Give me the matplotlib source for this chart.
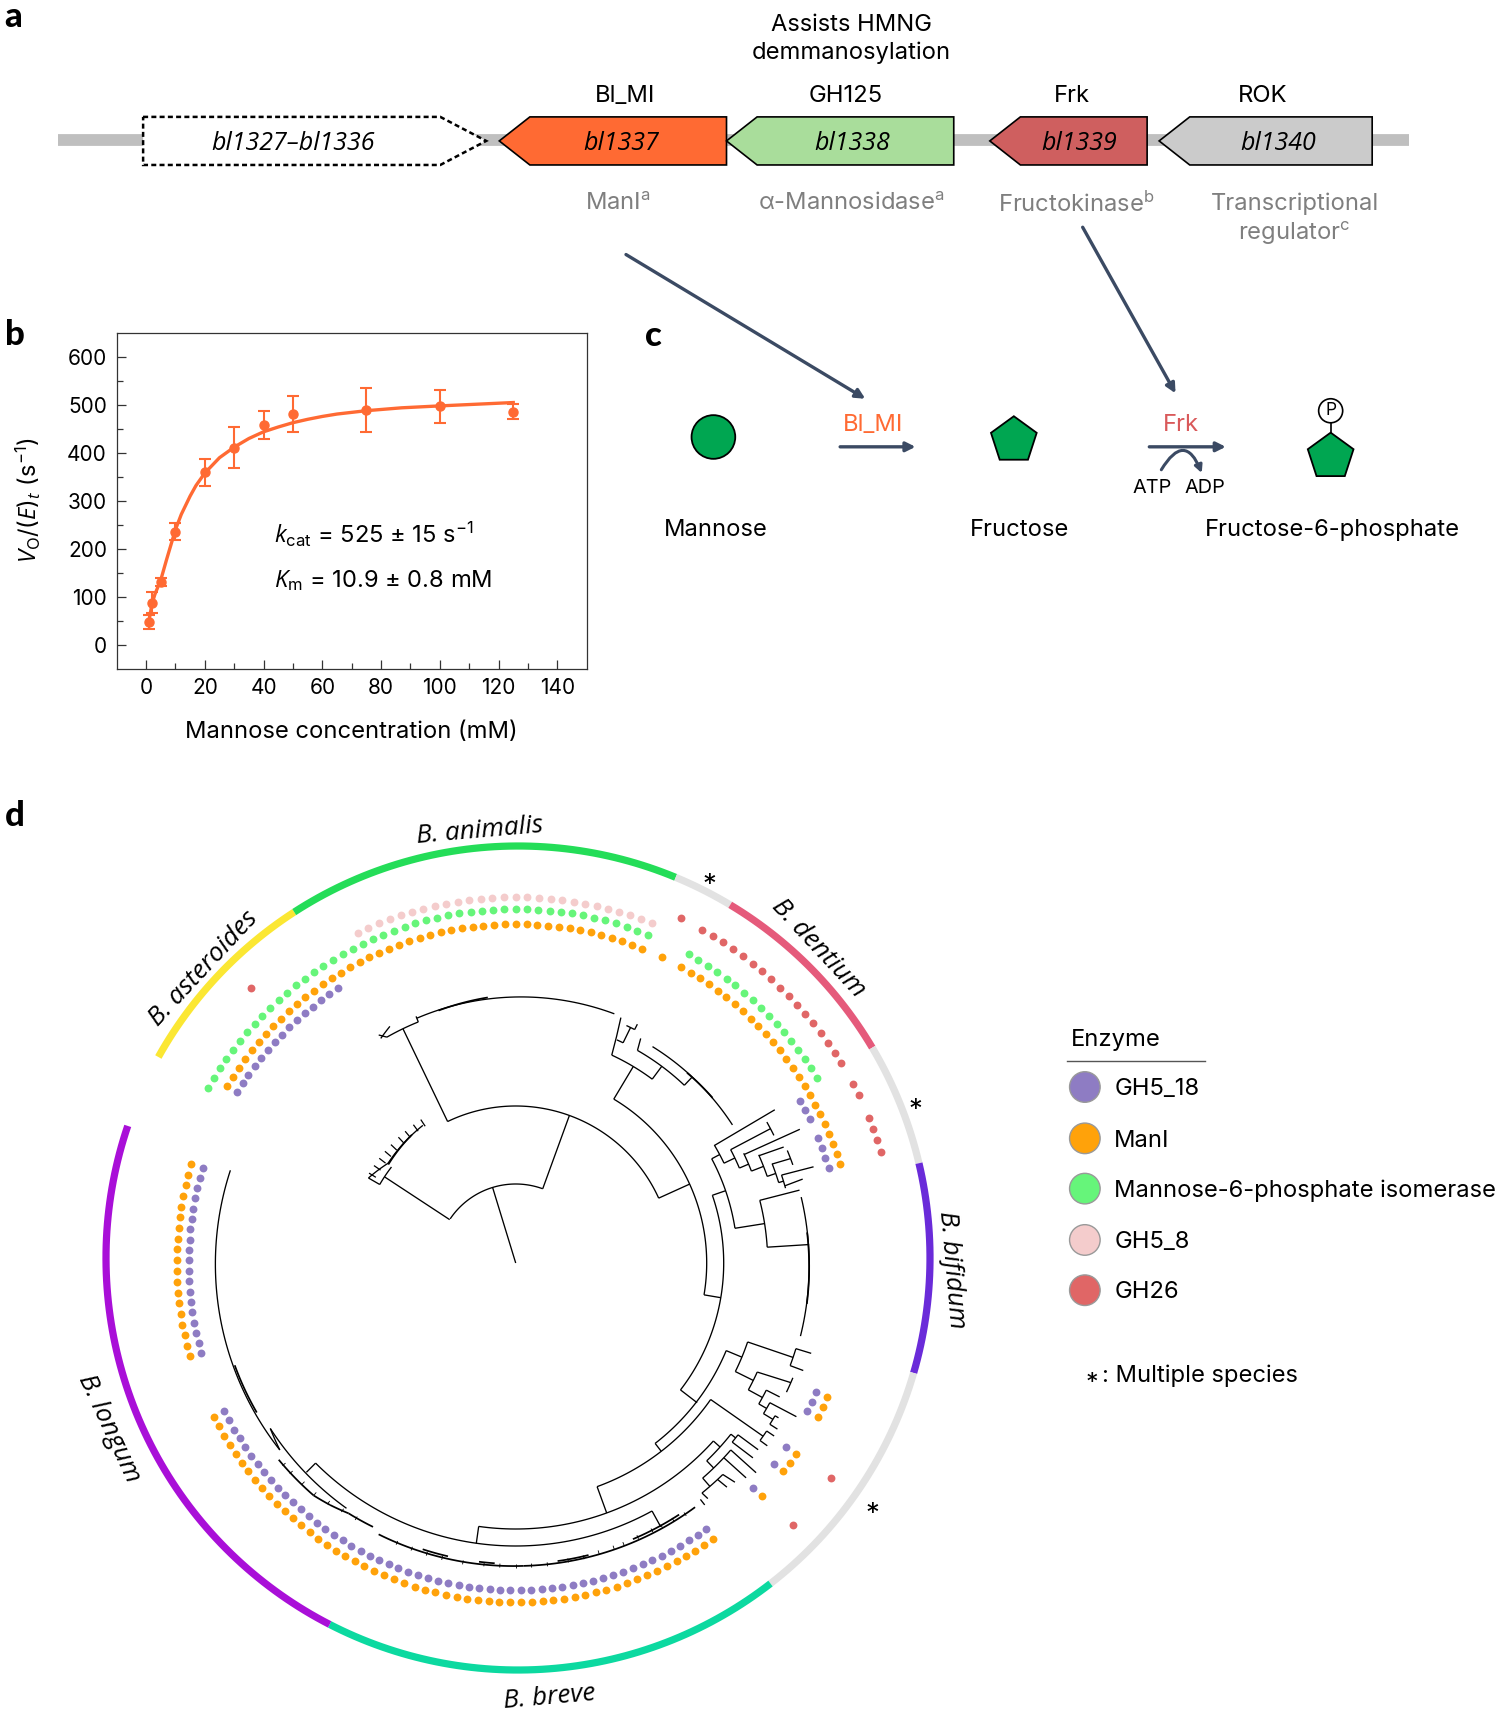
import numpy as np
import matplotlib
matplotlib.use('Agg')
import matplotlib.pyplot as plt
from matplotlib.patches import Polygon, Circle, FancyArrowPatch, RegularPolygon

FONT = 'Inter'
ITALIC = 'Open Sans'
plt.rcParams['font.family'] = [FONT, 'DejaVu Sans']
plt.rcParams['mathtext.fontset'] = 'custom'
plt.rcParams['mathtext.rm'] = FONT
plt.rcParams['mathtext.it'] = ITALIC + ':italic'
plt.rcParams['mathtext.bf'] = FONT + ':bold'

W, H = 1500, 1713
REF_W, REF_H = 1373, 1568  # schematic parts are placed in these units

# panel a
GENE_NAMES = ['bl1337', 'bl1338', 'bl1339', 'bl1340']
GENE_TOP = ['Bl_MI', 'GH125', 'Frk', 'ROK']
GENE_ROLE = ['ManI$^{\\mathrm{a}}$', 'α-Mannosidase$^{\\mathrm{a}}$', 'Fructokinase$^{\\mathrm{b}}$',
             'Transcriptional\nregulator$^{\\mathrm{c}}$']
GENE_START = [457, 665, 906, 1061]
GENE_END = [665, 873, 1050, 1256]
GENE_COLOR = ['#FF6A33', '#A9DD9B', '#CF5F5F', '#CBCBCB']

# panel b
CONC = [1, 2, 5, 10, 20, 30, 40, 50, 75, 100, 125]
RATE = [47, 88, 131, 236, 360, 411, 458, 481, 490, 497, 486]
RATE_ERR = [15, 22, 8, 18, 28, 42, 30, 38, 46, 35, 15]
FIT_X = [1, 2, 3, 5, 7, 10, 12, 15, 17, 20, 25, 30, 35, 40, 45, 50, 55, 60, 65, 75, 87, 100, 125]
FIT_Y = [50, 85, 105, 135, 178, 240, 272, 310, 332, 358, 390, 412, 430, 444, 454, 463, 470, 476, 481, 488, 494, 498, 505]

# panel d: tips of the tree that carry each enzyme
N_TIPS = 197
GH5_18_TIPS = [(-32, -18), (33, 35), (37, 40), (62, 64), (68, 68), (70, 70), (73, 73), (79, 133), (139, 157)]
MANI_TIPS = [(-32, 12), (14, 14), (16, 32), (33, 40), (62, 64), (68, 70), (73, 73), (79, 133), (139, 157)]
M6PI_TIPS = [(-33, 12), (16, 32)]
GH5_8_TIPS = [(-14, 12)]
GH26_TIPS = [(-24, -24), (14, 14), (16, 32), (34, 35), (37, 40), (68, 68), (73, 73)]
ENZYMES = ['GH5_18', 'ManI', 'Mannose-6-phosphate isomerase', 'GH5_8', 'GH26']
ENZYME_TIPS = [GH5_18_TIPS, MANI_TIPS, M6PI_TIPS, GH5_8_TIPS, GH26_TIPS]
ENZYME_RADIUS = [327, 339, 354, 366, 382]
ENZYME_COLOR = ['#8E7CC3', '#FFA20A', '#66F57A', '#F4CCCC', '#E06666']

SPECIES_RING = [(299.2, 327.1, '#FBE733'), (327.1, 382.5, '#24DD58'), (22.5, 31, '#E2E2E2'),
                (31, 59.3, '#E55A7B'), (59.3, 76.7, '#E2E2E2'), (76.7, 106.2, '#6A2BD9'),
                (106.2, 142.2, '#E2E2E2'), (142.2, 207.2, '#0CD9A0'), (207.2, 288.7, '#A90FD8')]

# tree branches as (angle from north in degrees, radius) points
TREE_BRANCHES = [
    [(-17, 0), (-17, 79)], [(-56, 79), (20, 79)], [(20, 79), (20, 157)], [(-56.7, 79), (-56.7, 157)],
    [(-25.7, 157), (65.6, 157)], [(-60, 157), (-52.3, 157)], [(-60, 157), (-60, 170)],
    [(-60, 170), (-52, 162)], [(-52, 162), (-34, 166)],
    [(-25.7, 157), (-25.7, 260)], [(-29.7, 260), (-22, 260)], [(-29.7, 260), (-31, 266)], [(-22, 260), (-22, 266)],
    [(-22, 264), (21.6, 268)], [(-31, 262), (-28, 268)],
    [(65.6, 157), (65.6, 191)], [(30.9, 191), (99.6, 191)], [(30.9, 191), (30.9, 229)],
    [(24.8, 229), (36.6, 229)], [(24.8, 229), (23.2, 267)], [(24.4, 245), (26, 245)], [(26, 245), (26, 262)],
    [(25, 262), (27, 262)], [(27, 262), (27, 268)],
    [(36.6, 229), (36.6, 245)], [(29.8, 245), (43.5, 245)], [(29.8, 245), (29.1, 257)], [(43.5, 245), (43.5, 256)],
    [(32.3, 256), (57.5, 257)],
    [(99.6, 191), (99.6, 208)], [(71, 208), (127.6, 208)], [(71, 208), (71, 222)], [(62, 222), (81, 222)],
    [(81, 222), (81, 252)], [(75.6, 252), (86.4, 252)], [(75.6, 252), (75.6, 293)], [(86.4, 252), (86.4, 294)],
    [(77, 293), (104.4, 294)],
    [(62, 222), (62, 231)], [(59.3, 231), (64.4, 231)], [(59.4, 231), (59.4, 301)],
    [(64.4, 231), (64.4, 243)], [(62.2, 243), (67, 243)], [(62.2, 243), (62.2, 288)], [(60.7, 288), (63.7, 288)],
    [(67, 243), (67, 253)], [(64.3, 253), (68.7, 253)], [(64.6, 253), (64.8, 314)],
    [(68.7, 253), (68.7, 266)], [(66, 266), (71, 266)], [(66.2, 266), (66.6, 292)],
    [(71, 266), (71, 275)], [(68.8, 275), (73, 275)], [(68.9, 275), (69.2, 294)], [(67.5, 294), (70.5, 294)],
    [(73, 275), (73, 280)], [(71.7, 280), (74.5, 280)], [(71.7, 280), (72.1, 313)], [(74, 280), (73.7, 299)],
    [(127.6, 208), (127.6, 229)], [(112.6, 228), (142.3, 228)], [(142.3, 228), (142.3, 238)],
    [(112.6, 228), (112.6, 245)], [(108.8, 245), (116.3, 245)], [(108.8, 245), (108.8, 293)],
    [(107, 293), (110.5, 293)], [(107, 293), (107, 309)], [(110.5, 293), (110.5, 307)],
    [(116.3, 245), (116.3, 265)], [(114.3, 265), (118.6, 265)], [(114.3, 265), (113.5, 300)], [(112.5, 300), (115.5, 300)],
    [(118.6, 265), (118.6, 281)], [(116.9, 281), (120.1, 281)], [(116.9, 281), (116.9, 296)],
    [(120.1, 281), (120.1, 290)], [(118.8, 290), (121.3, 290)], [(118.8, 290), (118.7, 320)],
    [(121.3, 290), (121.3, 301)], [(120.5, 301), (122.4, 301)], [(120.5, 301), (120.5, 305)], [(122.4, 301), (122.4, 310)],
    [(125, 238), (160, 238)], [(125, 238), (125, 302)], [(123.8, 302), (126, 302)], [(123.8, 302), (123.8, 311)],
    [(126, 302), (126, 311)],
    [(160, 238), (160, 266)], [(132, 266), (188, 266)], [(188, 266), (188, 283)], [(151.2, 283), (225, 283)],
    [(225, 283), (225, 296)], [(151.2, 283), (151.2, 301)],
    [(132, 266), (132, 275)], [(128.5, 275), (136, 275)], [(128.5, 275), (128.5, 281)], [(127.7, 281), (129.6, 281)],
    [(127.7, 281), (127.6, 306)], [(129.6, 281), (129.4, 307)],
    [(136, 275), (136, 285)], [(131, 285), (139, 285)], [(131, 285), (131.1, 319)], [(133.1, 285), (133, 315)],
    [(139, 285), (139, 296)], [(135.6, 296), (141, 296)], [(135.6, 296), (135, 310)], [(137, 296), (136.7, 308)],
    [(141, 296), (140.8, 304)], [(142, 300), (142, 307)],
    [(288, 300), (231.6, 301)], [(236, 296), (214.6, 298)], [(236, 296), (231.6, 301)],
]
TREE_THICK = [
    [(-17, 264), (-6, 267)], [(42, 256), (50, 257)], [(84, 293), (98, 294)], [(-52.3, 161), (-39, 165)],
    [(143.7, 303), (178.5, 303)], [(178.5, 303), (206.8, 304)], [(230.3, 308), (221, 308)],
    [(221, 308), (217.5, 305)], [(217.5, 305), (213.7, 301)], [(213.7, 301), (208.4, 300)],
    [(147, 300), (157, 300)], [(166, 301), (172, 301)], [(184, 301), (187, 301)], [(193, 301), (198, 301)],
    [(250, 299), (240, 299)],
]
# short stubs on the outer tips
TIP_STUBS = [146, 148.5, 151, 153, 156, 159, 161, 164, 167, 170, 174, 177, 180, 183, 186, 190, 194, 197, 200, 203,
             212, 215, 218, 221, 224, 227, 229]
TIP_STUB_R = [302, 300, 300, 299, 299, 300, 300, 300, 301, 301, 302, 302, 302, 302, 302, 303, 303, 303, 303, 303,
              300, 301, 303, 305, 305, 306, 306]
COMB_TEETH = [-58.5, -55.5, -52.5, -49.5, -46.5, -43, -40, -36.5, -33.5]

fig = plt.figure(figsize=(W / 100, H / 100), dpi=100)

# overlay in reference units
ov = fig.add_axes([0, 0, 1, 1])
ov.set_xlim(0, REF_W)
ov.set_ylim(REF_H, 0)
ov.axis('off')
ov.patch.set_alpha(0)

TS = 17.1
IT = 18


def txt(x, y, s, **kw):
    kw.setdefault('fontsize', TS)
    kw.setdefault('ha', 'center')
    kw.setdefault('va', 'center')
    return ov.text(x, y + 4, s, **kw)


for lab, x, y in [('a', 12, 12), ('b', 14, 303), ('c', 598, 304), ('d', 14, 743)]:
    txt(x, y, lab, fontsize=25, fontweight='black', family='Lato')

# gene map
ov.plot([53, 1290], [128, 128], color='#BFBFBF', lw=8.5, solid_capstyle='butt', zorder=1)
ov.add_patch(Polygon([(131, 107), (403, 107), (445, 129), (403, 151), (131, 151)], closed=True, fc='white',
                     ec='black', lw=1.8, ls=(0, (2, 1.3)), zorder=2))
txt(268, 127, 'bl1327–bl1336', fontsize=IT, style='italic', family=ITALIC, zorder=3)
for name, top, start, end, col in zip(GENE_NAMES, GENE_TOP, GENE_START, GENE_END, GENE_COLOR):
    ov.add_patch(Polygon([(end, 107), (start + 28, 107), (start, 129), (start + 28, 151), (end, 151)], closed=True,
                         fc=col, ec='black', lw=1.2, zorder=2))
for name, x in zip(GENE_NAMES, [569, 780, 988, 1170]):
    txt(x, 127, name, fontsize=IT, style='italic', family=ITALIC, zorder=3)
for top, x in zip(GENE_TOP, [572, 774, 981, 1156]):
    txt(x, 84, top)
txt(779, 32, 'Assists HMNG\ndemmanosylation', linespacing=1.3)
for role, x, y in zip(GENE_ROLE, [565, 779, 985, 1185], [183, 183, 183, 197]):
    txt(x, y, role, color='#7F7F7F', linespacing=1.25)

SLATE = '#3B4A63'
for p0, p1 in [((573, 233), (792, 365)), ((991, 208), (1076, 360)), ((769, 409), (838, 409)), ((1052, 409), (1122, 409))]:
    ov.add_patch(FancyArrowPatch(p0, p1, arrowstyle='-|>', mutation_scale=14, color=SLATE, lw=2.4,
                                 shrinkA=0, shrinkB=0, zorder=2))
ov.add_patch(FancyArrowPatch((1063, 430), (1100, 433), connectionstyle='arc3,rad=-1.0', arrowstyle='-|>',
                             mutation_scale=11, color=SLATE, lw=2.2, shrinkA=0, shrinkB=0))

# panel c
GREEN = '#00A651'
ov.add_patch(Circle((653, 400), 20, fc=GREEN, ec='black', lw=1.3))
ov.add_patch(RegularPolygon((928, 403), 5, radius=22, orientation=np.pi, fc=GREEN, ec='black', lw=1.3))
ov.add_patch(RegularPolygon((1218, 418), 5, radius=22, orientation=np.pi, fc=GREEN, ec='black', lw=1.3))
ov.plot([1218, 1218], [387, 396], color='black', lw=1.2)
ov.add_patch(Circle((1218, 376), 11, fc='white', ec='black', lw=1.2))
ov.text(1218, 376, 'P', fontsize=12.5, ha='center', va='center')
txt(799, 385, 'Bl_MI', color='#FF6A33')
txt(1081, 385, 'Frk', color='#D9595A')
txt(1055, 443, 'ATP', fontsize=14.3)
txt(1103, 443, 'ADP', fontsize=14.3)
txt(655, 481, 'Mannose')
txt(933, 481, 'Fructose')
txt(1220, 481, 'Fructose-6-phosphate')

# panel b
AX_L, AX_R, AX_T, AX_B = 116.7, 586.7, 333, 668.7
ax = fig.add_axes([AX_L / W, 1 - AX_B / H, (AX_R - AX_L) / W, (AX_B - AX_T) / H])
ax.patch.set_alpha(0)
ORANGE = '#FF6A33'
ax.plot(FIT_X, FIT_Y, color=ORANGE, lw=2.4)
ax.errorbar(CONC, RATE, yerr=RATE_ERR, fmt='o', color=ORANGE, ms=6.5, elinewidth=1.5, capsize=4, capthick=1.5)
ax.set_xlim(-10, 150)
ax.set_ylim(-50, 650)
ax.set_xticks(range(0, 141, 20))
ax.set_xticks(range(10, 131, 20), minor=True)
ax.set_yticks(range(0, 601, 100))
ax.set_yticks(range(50, 551, 100), minor=True)
ax.tick_params(which='major', direction='in', length=6.5, width=0.9, labelsize=15, pad=7, color='#333333')
ax.tick_params(which='minor', direction='in', length=4, width=0.9, color='#333333')
for s in ax.spines.values():
    s.set_linewidth(0.9)
    s.set_color('#333333')
ax.set_xlabel('Mannose concentration (mM)', fontsize=TS, labelpad=16)
txt(26, 454, '$\\mathit{V}_{\\mathrm{O}}/(\\mathit{E})_{\\mathit{t}}$ (s$^{-1}$)', rotation=90)
txt(251, 485, '$\\mathit{k}_{\\mathrm{cat}}$ = 525 ± 15 s$^{-1}$', ha='left')
txt(251, 527, '$\\mathit{K}_{\\mathrm{m}}$ = 10.9 ± 0.8 mM', ha='left')


def polar_axes(cx, cy, rmax):
    a = fig.add_axes([(cx - rmax) / W, 1 - (cy + rmax) / H, 2 * rmax / W, 2 * rmax / H], projection='polar')
    a.set_theta_zero_location('N')
    a.set_theta_direction(-1)
    a.set_ylim(0, rmax)
    a.axis('off')
    a.patch.set_alpha(0)
    return a


def draw_branch(a, pts, lw):
    for (t0, r0), (t1, r1) in zip(pts[:-1], pts[1:]):
        n = max(2, int(abs(t1 - t0)) + 2)
        a.plot(np.radians(np.linspace(t0, t1, n)), np.linspace(r0, r1, n), color='black', lw=lw,
               solid_capstyle='butt', clip_on=False)


# species ring
ring = polar_axes(518, 1258, 440)
for start, end, col in SPECIES_RING:
    n = int(end - start) + 2
    ring.plot(np.radians(np.linspace(start, end, n)), np.full(n, 412), color=col, lw=5.2,
              solid_capstyle='butt', clip_on=False)

# tree and enzyme dots
tree = polar_axes(515.7, 1263, 440)
for b in TREE_BRANCHES:
    draw_branch(tree, b, 0.95)
for b in TREE_THICK:
    draw_branch(tree, b, 1.25)
for t, r in zip(TIP_STUBS, TIP_STUB_R):
    draw_branch(tree, [(t, r - 1), (t, r + 3)], 0.6)
for t in COMB_TEETH:
    draw_branch(tree, [(t, 164), (t, 172)], 0.9)
for tips, r, col in zip(ENZYME_TIPS, ENZYME_RADIUS, ENZYME_COLOR):
    idx = np.concatenate([np.arange(a, b + 1) for a, b in tips])
    theta = np.radians(idx * 360 / N_TIPS)
    tree.scatter(theta, np.full(len(theta), r), s=32, color=col, linewidths=0, clip_on=False)

# species labels
for lab, x, y, rot in [('B. animalis', 439, 757, 5), ('B. asteroides', 186, 883, 47), ('B. dentium', 749, 864, -47),
                       ('B. bifidum', 871, 1158, -85), ('B. longum', 100, 1304, -65), ('B. breve', 503, 1550, 5)]:
    txt(x, y, lab, fontsize=IT + 0.8, style='italic', family=ITALIC, rotation=rot, rotation_mode='anchor')
for x, y in [(649, 811), (838, 1017), (799, 1387)]:
    ov.text(x, y, '*', fontsize=20, ha='center', va='center')

# legend
txt(980, 948, 'Enzyme', ha='left')
ov.plot([977, 1103], [971, 971], color='#555555', lw=1)
for lab, col, y in zip(ENZYMES, ENZYME_COLOR, [995, 1042, 1088, 1135, 1181]):
    ov.add_patch(Circle((993, y), 14, fc=col, ec='#999999', lw=1))
    txt(1020, y - 2, lab, ha='left')
ov.text(999, 1266, '*', fontsize=18, ha='center', va='center')
txt(1009, 1255, ': Multiple species', ha='left')

fig.savefig('out.png', dpi=100)
